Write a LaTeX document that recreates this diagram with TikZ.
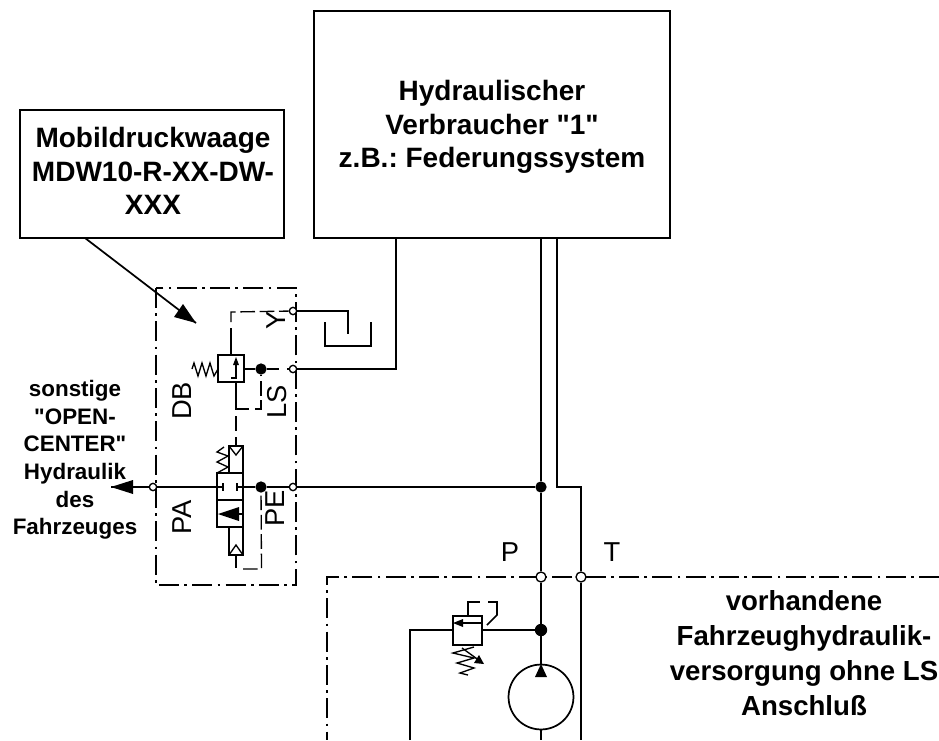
\documentclass[tikz,border=0pt]{standalone}
\usepackage{fontspec}
\setmainfont{Liberation Sans}[Ligatures=TeXOff]
\usetikzlibrary{calc}
\tikzset{
  x=0.75pt,y=-0.75pt,
  ln/.style={line width=1.3pt,line cap=butt,line join=miter},
  fine/.style={line width=1pt},
  dd/.style={line width=0.9pt,dash pattern=on 15pt off 4pt on 2pt off 4pt},
  pil/.style={line width=1pt,dash pattern=on 11pt off 3.5pt},
  box/.style={draw,line width=1.3pt,fill=white,inner sep=0pt},
  bold/.style={inner sep=0pt,align=center,font=\fontsize{21}{25}\selectfont\bfseries},
  boldw/.style={inner sep=0pt,align=center,font=\fontsize{20.7}{26.2}\selectfont\bfseries},
  small/.style={inner sep=0pt,align=center,font=\fontsize{16.8}{20.7}\selectfont\bfseries},
  lab/.style={inner sep=0pt,font=\fontsize{20.5}{24}\selectfont},
  port/.style={circle,draw,line width=1pt,fill=white,minimum size=5.5pt,inner sep=0pt},
  bigport/.style={circle,draw,line width=1pt,fill=white,minimum size=7.5pt,inner sep=0pt},
  junc/.style={circle,fill=black,minimum size=8.5pt,inner sep=0pt},
}
\begin{document}
\frenchspacing
\begin{tikzpicture}
\useasboundingbox (0,0) rectangle (939,740);
% frames
\draw[dd] (156,288) rectangle (296,585);
\draw[dd] (939,577) -- (327,577) -- (327,740);
% boxes
\node[box,minimum width=267.5pt,minimum height=170.5pt] (verb) at (492,124.5) {};
\node[box,minimum width=198pt,minimum height=96pt] (mob) at (152,174) {};
\node[bold] (verbt) at (492,127) {Hydraulischer\\Verbraucher "1"\\z.B.: Federungssystem};
\node[bold] (mobt) at (153,171) {Mobildruckwaage\\MDW10-R-XX-DW-\\XXX};
% named points
\coordinate (arrtip) at (196,323);
\coordinate (arrfrom) at (85,238);
\coordinate (tipPA) at (111,487);
\node[junc] (j1) at (261,369) {};
\node[junc] (j2) at (261,487) {};
\node[junc] (j3) at (541,487) {};
\node[junc,minimum size=9.3pt] (j4) at (541,630) {};
\node[port] (pY) at (293,311) {};
\node[port] (pLS) at (293,369) {};
\node[port] (pPA) at (153,487) {};
\node[port] (pPE) at (293,487) {};
\node[bigport] (pP) at (541,577) {};
\node[bigport] (pT) at (581,577) {};
\node[draw,line width=1.3pt,circle,minimum size=48.7pt,inner sep=0pt] (pump) at (541,697) {};
% leader arrow
\draw[ln] (arrfrom) -- (arrtip);
\fill (196,323) -- (174,317) -- (183,304) -- cycle;
% main lines
\draw[ln] (541,238) -- (j3) -- (pP) -- (j4) -- (pump.north);
\draw[ln] (pump.south) -- (541,740);
\draw[ln] (557,238) -- (557,487) -- (581,487) -- (pT) -- (581,740);
\draw[ln] (j3) -- (pPE) -- (j2) -- (237,487);
\draw[ln] (223,487) -- (pPA) -- (tipPA);
\fill (111,487) -- (133,480) -- (133,494) -- cycle;
\draw[ln] (237,483) -- (237,491);
\draw[ln] (223,483) -- (223,491);
% Y and tank
\draw[ln] (pY) -- (348,311) -- (348,334);
\draw[ln] (325,322) -- (325,346) -- (371,346) -- (371,322);
% LS line
\draw[ln] (pLS) -- (396,369) -- (396,238);
% DB valve
\draw[ln] (218,355) rectangle (244,382);
\draw[ln] (244,369) -- (j1) -- (279,369);
\draw[ln] (287,369) -- (pLS);
\draw[ln] (231,355) -- (231,328);
\draw[pil] (231,322) -- (231,312) -- (pY);
\draw[ln] (236,382) -- (236,409) -- (249,409);
\draw[pil] (255,409) -- (261,409) -- (j1);
\draw[fine] (236,416) -- (236,431);
\draw[fine] (236,437) -- (236,446);
\draw[ln] (231,378) -- (236,378) -- (236,362);
\fill (236,357) -- (233,365) -- (239,365) -- cycle;
\draw[fine] (218,369) -- (214,376) -- (210,363) -- (206,376) -- (202,363) -- (198,376) -- (194,363) -- (192,369);
% directional valve
\draw[ln] (217,473) rectangle (243,500);
\draw[ln] (217,500) rectangle (243,527);
\draw[ln] (229,473) -- (229,446) -- (243,446) -- (243,473);
\draw[ln] (229,527) -- (229,555) -- (243,555) -- (243,527);
\draw[fine] (229,446) -- (236,455) -- (243,446);
\draw[fine] (229,555) -- (236,545) -- (243,555);
\draw[fine] (217,473) -- (228,467) -- (217,462) -- (228,456) -- (217,452) -- (224,447);
\fill (218,514) -- (239,507) -- (239,521) -- cycle;
\draw[ln] (239,514) -- (243,514);
\draw[ln] (236,555) -- (236,568);
\draw[pil] (243,569) -- (261.5,569) -- (j2);
% relief valve
\draw[ln] (453,616) rectangle (482,645);
\draw[ln] (410,740) -- (410,630) -- (453,630);
\draw[ln] (482,630) -- (j4);
\draw[ln] (482,623) -- (460,623);
\fill (453,623) -- (463,619) -- (463,627) -- cycle;
\draw[ln] (468,616) -- (468,602) -- (480,602);
\draw[ln] (488,602) -- (497,602) -- (497,615) -- (487,625);
\draw[fine] (474,647) -- (453,653) -- (474,658) -- (457,663) -- (474,668) -- (460,673) -- (468,675);
\draw[fine] (462,648) -- (480,661);
\fill (484,664) -- (474,663) -- (479,655) -- cycle;
\fill (541,664) -- (535,677) -- (547,677) -- cycle;
% text
\node[small] (sonst) at (75,460) {sonstige\\"OPEN-\\CENTER"\\Hydraulik\\des\\Fahrzeuges};
\node[boldw] (vorh) at (804,653) {vorhandene\\Fahrzeughydraulik-\\versorgung ohne LS\\Anschluß};
\node[lab,rotate=90] (tY) at (276,320) {Y};
\node[lab,rotate=90] (tLS) at (277,402) {LS};
\node[lab,rotate=90] (tDB) at (182,401) {DB};
\node[lab,rotate=90] (tPA) at (182,517) {PA};
\node[lab,rotate=90] (tPE) at (275,508) {PE};
\node[lab] (tP) at (510,552) {P};
\node[lab] (tT) at (612,552) {T};
\end{tikzpicture}
\end{document}
